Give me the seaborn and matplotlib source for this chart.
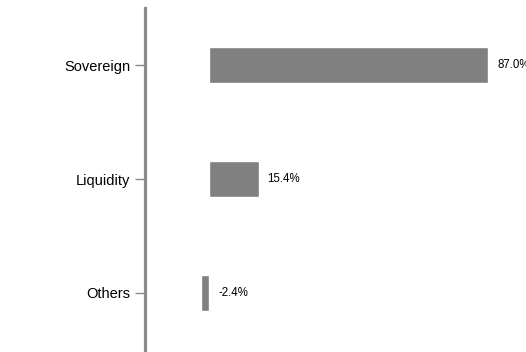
import matplotlib
matplotlib.use("Agg")
import matplotlib.pyplot as plt
import seaborn as sns
import pandas as pd

categories = ["Sovereign", "Liquidity", "Others"]
values = [87.0, 15.4, -2.4]
labels = ["87.0%", "15.4%", "-2.4%"]

df = pd.DataFrame({"category": categories, "value": values})

sns.set_style("white")
plt.rcParams['font.family'] = ['Liberation Sans', 'DejaVu Sans']

fig = plt.figure(figsize=(5.26, 3.52), dpi=100)
# axes deliberately runs past the right edge, like the reference
ax = fig.add_axes([145 / 526, 2 / 352, (530 - 145) / 526, 342 / 352])

sns.barplot(data=df, x="value", y="category", orient="h", color="#808080",
            width=0.31, saturation=1, ax=ax)

ax.set_xlim(-20, 100)
ax.set_ylim(2.5, -0.5)

for i, v in enumerate(values):
    ax.text(max(v, 0) + 2.8, i, labels[i], va="center", ha="left", fontsize=8.3, color="black")

for s in ["top", "right", "bottom"]:
    ax.spines[s].set_visible(False)
ax.spines["left"].set_color("#8a8a8a")
ax.spines["left"].set_linewidth(2.3)

ax.set_xticks([])
ax.tick_params(axis="y", left=True, length=7, width=1, color="#8a8a8a",
               labelsize=10.5, labelcolor="black", pad=3.5)
ax.set_xlabel("")
ax.set_ylabel("")

fig.savefig("out.png", dpi=100)
